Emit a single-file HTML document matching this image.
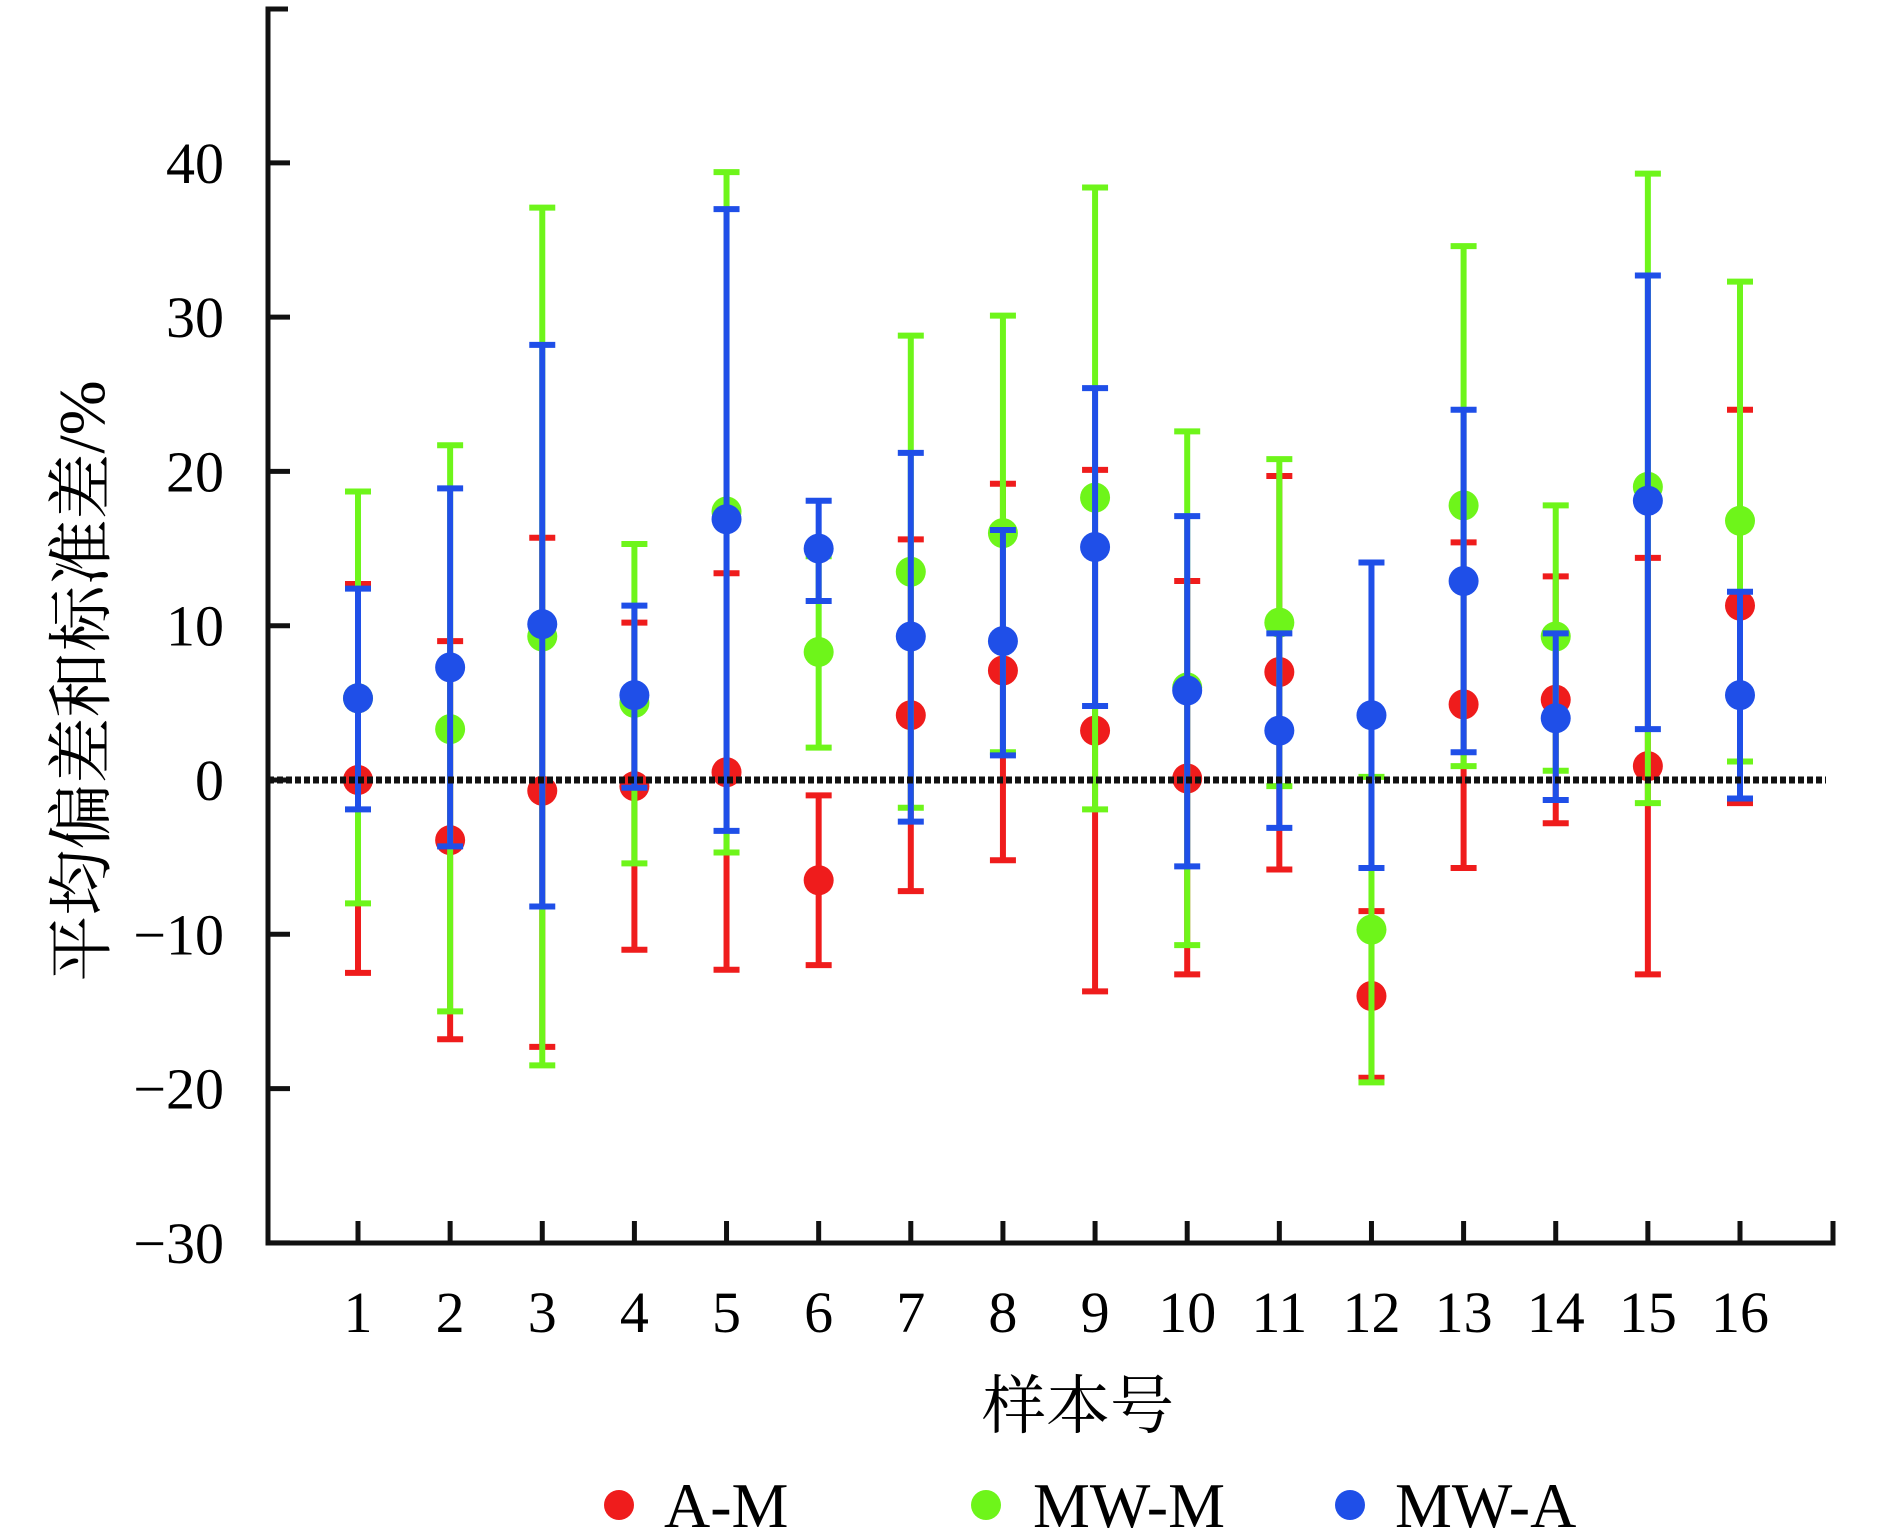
<!DOCTYPE html>
<html><head><meta charset="utf-8"><style>
html,body{margin:0;padding:0;background:#fff;}
svg{display:block;}
text{font-family:"Liberation Serif","Noto Serif CJK SC",serif;fill:#000;}
</style></head><body>
<svg id="chart" width="1890" height="1535" viewBox="0 0 1890 1535" xmlns="http://www.w3.org/2000/svg">
<g id="axes"></g>
<g id="plot"></g>
<text x="1078" y="1428" font-size="64" text-anchor="middle" style="font-family:'Liberation Serif','Noto Serif CJK SC',serif">样本号</text>
<text transform="translate(104,681) rotate(-90)" font-size="66" text-anchor="middle" style="font-family:'Liberation Serif','Noto Serif CJK SC',serif">平均偏差和标准差/%</text>
<g>
<g><circle cx="619" cy="1505" r="15" fill="#ef1c1c"/><text x="664" y="1527" font-size="64">A-M</text></g>
<g><circle cx="986" cy="1505" r="15" fill="#6ef51a"/><text x="1033" y="1527" font-size="64">MW-M</text></g>
<g><circle cx="1350" cy="1505" r="15" fill="#1f4fe8"/><text x="1395" y="1527" font-size="64">MW-A</text></g>
</g>
</svg>
<script>
const categories = ["1","2","3","4","5","6","7","8","9","10","11","12","13","14","15","16"];
const yTicks = [-30,-20,-10,0,10,20,30,40];
const amMean = [0,-3.9,-0.7,-0.4,0.5,-6.5,4.2,7.1,3.2,0.1,7,-14,4.9,5.2,0.9,11.3];
const amLow  = [-12.5,-16.8,-17.3,-11,-12.3,-12,-7.2,-5.2,-13.7,-12.6,-5.8,-19.3,-5.7,-2.8,-12.6,-1.5];
const amHigh = [12.7,9,15.7,10.2,13.4,-1,15.6,19.2,20.1,12.9,19.7,-8.5,15.4,13.2,14.4,24];
const mwmMean = [5.3,3.3,9.3,5,17.4,8.3,13.5,16,18.3,6,10.2,-9.7,17.8,9.3,19,16.8];
const mwmLow  = [-8,-15,-18.5,-5.4,-4.7,2.1,-1.8,1.8,-1.9,-10.7,-0.4,-19.6,0.9,0.6,-1.5,1.2];
const mwmHigh = [18.7,21.7,37.1,15.3,39.4,14.5,28.8,30.1,38.4,22.6,20.8,0.2,34.6,17.8,39.3,32.3];
const mwaMean = [5.3,7.3,10.1,5.5,16.9,15,9.3,9,15.1,5.8,3.2,4.2,12.9,4,18.1,5.5];
const mwaLow  = [-1.9,-4.3,-8.2,-0.5,-3.3,11.6,-2.7,1.6,4.8,-5.6,-3.1,-5.7,1.8,-1.3,3.3,-1.2];
const mwaHigh = [12.4,18.9,28.2,11.3,37,18.1,21.2,16.2,25.4,17.1,9.5,14.1,24,9.5,32.7,12.2];

const NS="http://www.w3.org/2000/svg";
const X0=268, XR=1833, YTOP=9, YBOT=1243;
function xs(i){return 358 + i*(1740-358)/15;}
function ys(v){return 780 - v*(1080/70);}
function mk(tag,attrs,parent){const e=document.createElementNS(NS,tag);for(const k in attrs)e.setAttribute(k,attrs[k]);parent.appendChild(e);return e;}
const axes=document.getElementById('axes'), plot=document.getElementById('plot');
let e;
e=mk('path',{d:`M${X0+20} ${YTOP} H${X0} V${YBOT} H${XR} V${YBOT-22}`,fill:'none',stroke:'#111',"stroke-width":5},axes);


yTicks.forEach(v=>{
  const t=mk('line',{x1:X0,x2:X0+22,y1:ys(v),y2:ys(v),stroke:'#111',"stroke-width":5},axes);
  
  
  const l=mk('text',{x:224,y:ys(v)+20,"font-size":58,"text-anchor":"end"},axes);
  l.textContent=(v<0?'\u2212':'')+Math.abs(v);
  
  
});
categories.forEach((c,i)=>{
  const t=mk('line',{x1:xs(i),x2:xs(i),y1:YBOT,y2:YBOT-22,stroke:'#111',"stroke-width":5},axes);
  
  
  const l=mk('text',{x:xs(i),y:1332,"font-size":58,"text-anchor":"middle"},axes);
  l.textContent=c;
  
  
});
const series=[
  {name:'a-m',color:'#ef1c1c',m:amMean,lo:amLow,hi:amHigh},
  {name:'mw-m',color:'#6ef51a',m:mwmMean,lo:mwmLow,hi:mwmHigh},
  {name:'mw-a',color:'#1f4fe8',m:mwaMean,lo:mwaLow,hi:mwaHigh}
];
series.forEach(s=>{
  const g=mk('g',{},plot);
  
  
  s.m.forEach((v,i)=>{
    const x=xs(i);
    const b=mk('path',{d:`M${x} ${ys(s.lo[i])} V${ys(s.hi[i])} M${x-13} ${ys(s.lo[i])} H${x+13} M${x-13} ${ys(s.hi[i])} H${x+13}`,stroke:s.color,"stroke-width":6,fill:'none'},g);
    
    
    const d=mk('circle',{cx:x,cy:ys(v),r:15,fill:s.color},g);
    
    
  });
});
e=mk('line',{x1:X0,x2:1826,y1:ys(0),y2:ys(0),stroke:'#111',"stroke-width":7,"stroke-dasharray":"6 3"},plot);


</script>
</body></html>
